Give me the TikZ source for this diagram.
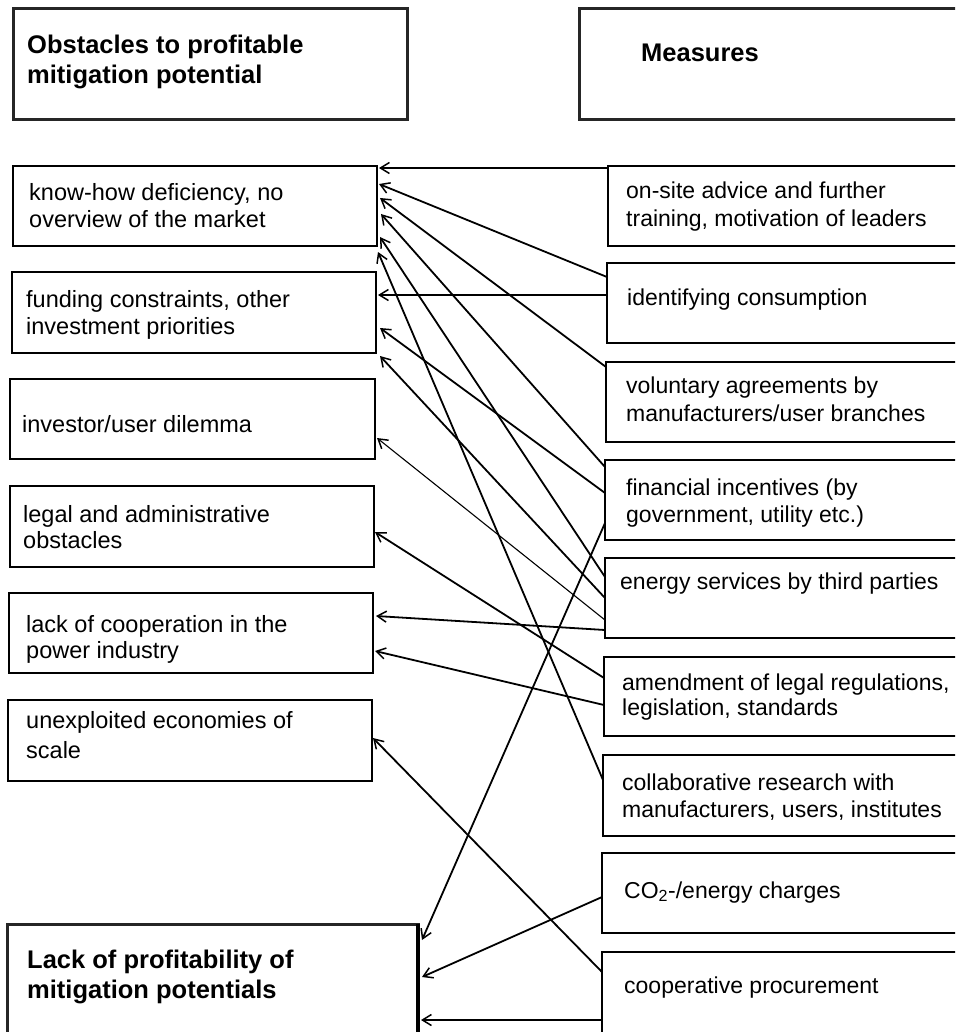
\documentclass[tikz,border=0pt]{standalone}
\usepackage{fontspec}
\setmainfont{Liberation Sans}
\usetikzlibrary{arrows.meta,calc,fit}

\begin{document}
\begin{tikzpicture}[x=1pt,y=-1pt,
  box/.style={draw=black, line width=2pt, inner sep=0pt, outer sep=0pt},
  headbox/.style={draw=black!85, line width=3pt, inner sep=0pt, outer sep=0pt},
  txt/.style={anchor=base west, inner sep=0pt, font=\fontsize{23.5}{26.5}\selectfont},
  rtxt/.style={txt, font=\fontsize{23}{26}\selectfont},
  head/.style={anchor=base west, inner sep=0pt, font=\fontsize{25.5}{30}\selectfont\bfseries},
  arr/.style={line width=1.8pt, -{Straight Barb[length=9pt,width=11pt,line width=1.5pt]}},
  thinarr/.style={arr, line width=1.1pt}
]
\useasboundingbox (0,0) rectangle (955,1032);
\fill[white] (0,0) rectangle (955,1032);
\clip (0,0) rectangle (955,1032);

% column of obstacles
\node[headbox, fit={(13,9) (407,120)}] (ob) {};
\node[box, fit={(13,166) (377,246)}] (kh) {};
\node[box, fit={(12,272) (376,353)}] (fu) {};
\node[box, fit={(10,379) (375,459)}] (iv) {};
\node[box, fit={(10,486) (374,567)}] (lg) {};
\node[box, fit={(9,593) (373,673)}] (co) {};
\node[box, fit={(8,700) (372,781)}] (ue) {};
\node[headbox, fit={(7,924) (418,1045)}] (lp) {};
\draw[line width=4pt] (lp.north east) -- (lp.south east);

% column of measures (running off the right edge)
\node[headbox, fit={(579,9) (975,120)}] (ms) {};
\node[box, fit={(608,166) (975,246)}] (os) {};
\node[box, fit={(607,263) (975,343)}] (id) {};
\node[box, fit={(606,362) (975,442)}] (va) {};
\node[box, fit={(605,460) (975,540)}] (fi) {};
\node[box, fit={(605,558) (975,638)}] (es) {};
\node[box, fit={(604,657) (975,736)}] (am) {};
\node[box, fit={(603,755) (975,836)}] (cr) {};
\node[box, fit={(602,853) (975,933)}] (cc) {};
\node[box, fit={(602,952) (975,1045)}] (cp) {};

% labels, obstacles
\node[head] (ob1) at (27,54) {Obstacles to profitable};
\node[head] (ob2) at (27,84) {mitigation potential};
\node[txt] (kh1) at (29,201) {know-how deficiency, no};
\node[txt] (kh2) at (29,228) {overview of the market};
\node[txt] (fu1) at (26,307) {funding constraints, other};
\node[txt] (fu2) at (26,334) {investment priorities};
\node[txt] (iv1) at (22,432) {investor/user dilemma};
\node[txt] (lg1) at (23,522) {legal and administrative};
\node[txt] (lg2) at (23,548) {obstacles};
\node[txt] (co1) at (26,632) {lack of cooperation in the};
\node[txt] (co2) at (26,658) {power industry};
\node[txt] (ue1) at (26,728) {unexploited economies of};
\node[txt] (ue2) at (26,758) {scale};
\node[head] (lp1) at (27,968) {Lack of profitability of};
\node[head] (lp2) at (27,998) {mitigation potentials};

% labels, measures
\node[head] (ms1) at (641,62) {Measures};
\node[rtxt] (os1) at (626,199) {on-site advice and further};
\node[rtxt] (os2) at (626,226) {training, motivation of leaders};
\node[rtxt] (id1) at (627,305) {identifying consumption};
\node[rtxt] (va1) at (626,393) {voluntary agreements by};
\node[rtxt] (va2) at (626,421) {manufacturers/user branches};
\node[rtxt] (fi1) at (626,495) {financial incentives (by};
\node[rtxt] (fi2) at (626,522) {government, utility etc.)};
\node[rtxt] (es1) at (620,589) {energy services by third parties};
\node[rtxt] (am1) at (622,690) {amendment of legal regulations,};
\node[rtxt] (am2) at (622,715) {legislation, standards};
\node[rtxt] (cr1) at (622,790) {collaborative research with};
\node[rtxt] (cr2) at (622,817) {manufacturers, users, institutes};
\node[rtxt] (cc1) at (624,898) {CO\textsubscript{2}-/energy charges};
\node[rtxt] (cp1) at (624,993) {cooperative procurement};

% measures acting on obstacles
\draw[arr] ($(os.north west)+(0,2)$) -- ($(kh.north east)+(2,2)$);
\draw[arr] ($(id.north west)+(0,14)$) -- ($(kh.north east)+(2,18)$);
\draw[arr] ($(va.north west)+(0,5)$) -- ($(kh.north east)+(3,32)$);
\draw[arr] ($(fi.north west)+(0,7)$) -- ($(kh.north east)+(4,48)$);
\draw[arr] ($(es.north west)+(0,19)$) -- ($(kh.north east)+(3,71)$);
\draw[arr] ($(cr.north west)+(0,25)$) -- ($(kh.north east)+(1,86)$);
\draw[arr] ($(id.north west)+(0,32)$) -- ($(fu.north east)+(2,23)$);
\draw[arr] ($(fi.north west)+(0,33)$) -- ($(fu.north east)+(4,56)$);
\draw[arr] ($(es.north west)+(0,40)$) -- ($(fu.north east)+(4,84)$);
\draw[thinarr] ($(es.north west)+(0,62)$) -- ($(iv.north east)+(2,59)$);
\draw[arr] ($(am.north west)+(0,21)$) -- ($(lg.north east)+(1,46)$);
\draw[arr] ($(es.north west)+(0,72)$) -- ($(co.north east)+(3,23)$);
\draw[arr] ($(am.north west)+(0,48)$) -- ($(co.north east)+(2,58)$);
\draw[arr] ($(cp.north west)+(0,20)$) -- ($(ue.north east)+(1,38)$);
\draw[arr] ($(fi.north west)+(0,63)$) -- ($(lp.north east)+(4,16)$);
\draw[arr] ($(cc.north west)+(0,44)$) -- ($(lp.north east)+(4,53)$);
\draw[arr] ($(cp.north west)+(0,68)$) -- ($(lp.north east)+(3,96)$);
\end{tikzpicture}
\end{document}
